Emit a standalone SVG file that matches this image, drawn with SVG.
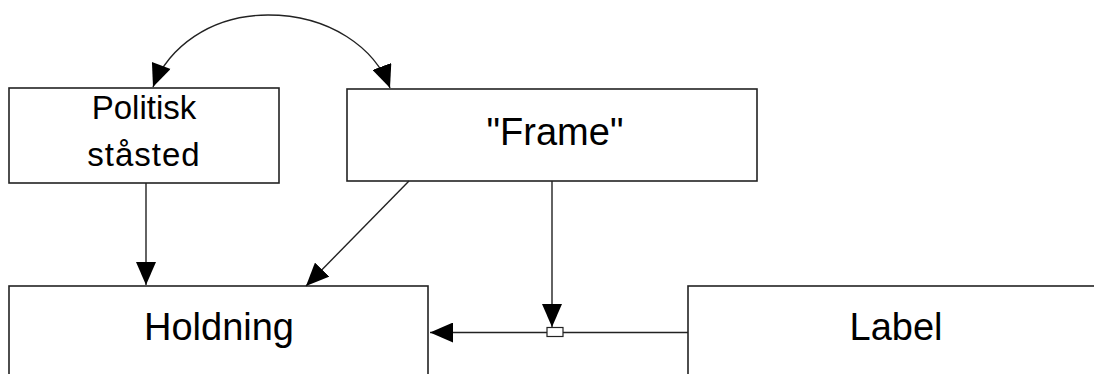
<svg xmlns="http://www.w3.org/2000/svg" width="1094" height="374" viewBox="0 0 1094 374">
<style>
.box{fill:#fff;stroke:#222;stroke-width:1.6}
.lbl{font-family:"Liberation Sans",Arial,sans-serif;fill:#000;text-anchor:middle}
.con{fill:none;stroke:#222;stroke-width:1.4}
</style>
<defs>
<marker id="ah" markerUnits="userSpaceOnUse" markerWidth="24" markerHeight="20" refX="23" refY="10" orient="auto">
<path d="M0,0 L23,10 L0,20 z" fill="#000"/>
</marker>
<marker id="ahs" markerUnits="userSpaceOnUse" markerWidth="24" markerHeight="20" refX="0" refY="10" orient="auto">
<path d="M23,0 L0,10 L23,20 z" fill="#000"/>
</marker>
</defs>
<rect width="1094" height="374" fill="#fff"/>
<g id="politisk">
<rect class="box" x="9" y="88" width="270" height="95"/>
<text class="lbl" x="144" y="119" font-size="33">Politisk</text>
<text class="lbl" x="144" y="166" font-size="33" letter-spacing="1">ståsted</text>
</g>
<g id="frame">
<rect class="box" x="347" y="89" width="410" height="92"/>
<text class="lbl" x="555" y="145" font-size="38">"Frame"</text>
</g>
<g id="holdning">
<rect class="box" x="9" y="286" width="419" height="100"/>
<text class="lbl" x="219" y="340" font-size="38">Holdning</text>
</g>
<g id="label">
<rect class="box" x="688" y="286" width="420" height="100"/>
<text class="lbl" x="896" y="340" font-size="38">Label</text>
</g>
<g id="connectors">
<path class="con" d="M153,87 C168,48 210,15 268,15 C330,15 375,48 390,88" marker-start="url(#ahs)" marker-end="url(#ah)"/>
<line class="con" x1="146" y1="183" x2="146" y2="285" marker-end="url(#ah)"/>
<line class="con" x1="409" y1="181" x2="306" y2="286" marker-end="url(#ah)"/>
<line class="con" x1="552" y1="181" x2="552" y2="327" marker-end="url(#ah)"/>
<line class="con" x1="688" y1="332.5" x2="430" y2="332.5" marker-end="url(#ah)"/>
<rect x="547" y="327.5" width="16" height="9" fill="#fff" stroke="#222" stroke-width="1.2"/>
</g>
</svg>
